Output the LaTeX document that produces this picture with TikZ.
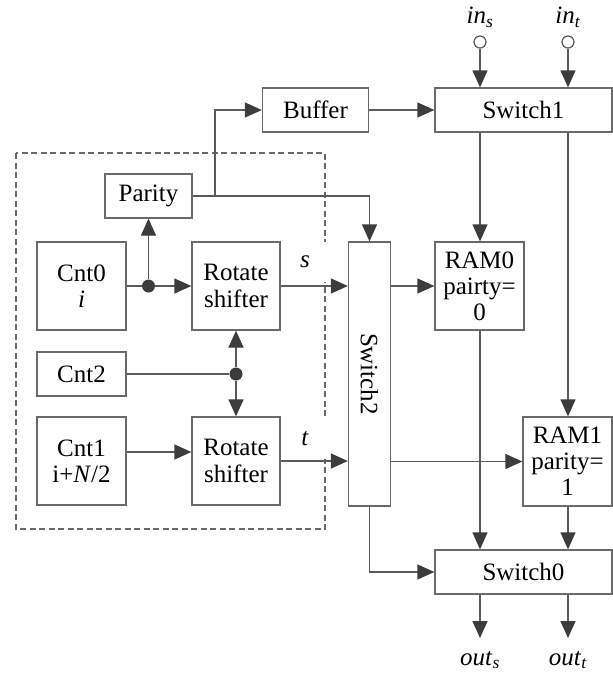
\documentclass[tikz,border=0pt]{standalone}
\usepackage{fontspec}
\setmainfont{Liberation Serif}
\usetikzlibrary{arrows.meta}
\definecolor{linec}{HTML}{5A5A5A}
\definecolor{boxc}{HTML}{6A6A6A}
\definecolor{tipc}{HTML}{3C3C3C}
\newcommand{\itsub}[2]{\textit{#1}\textsubscript{\textit{#2}}}
\begin{document}
\begin{tikzpicture}[x=1pt,y=-1pt,
  font=\fontsize{25}{29}\selectfont,
  blk/.style={draw=boxc,line width=1.3pt,fill=white,inner sep=0pt,align=center},
  conn/.style={draw=linec,line width=1.3pt},
  arr/.style={conn,-{Triangle[length=17pt,width=15pt,color=tipc]}},
  jdot/.style={circle,fill=tipc,inner sep=0pt,minimum size=13pt},
  odot/.style={circle,draw=linec,line width=1.2pt,fill=white,inner sep=0pt,minimum size=12pt},
  lbl/.style={fill=white,inner sep=0pt,minimum width=46pt,minimum height=40pt}]
\useasboundingbox (0,0) rectangle (613,673);
% dashed frame
\draw[draw=boxc,line width=1.3pt,dash pattern=on 6pt off 3.5pt] (16,153) rectangle (325,529);
% labels s and t (white fill interrupts frame)
\node[lbl] (slab) at (305,262) {\textit{s}};
\node[lbl] (tlab) at (305,439) {\textit{t}};
% blocks
\node[blk,minimum width=87pt,minimum height=44pt] (parity) at (148.5,196) {Parity};
\node[blk,minimum width=89pt,minimum height=88pt] (cnt0) at (81.5,286) {Cnt0\\[-3pt]\textit{i}};
\node[blk,minimum width=88pt,minimum height=88pt] (rs1) at (236,286) {Rotate\\[-2pt]shifter};
\node[blk,minimum width=89pt,minimum height=44pt] (cnt2) at (81.5,374) {Cnt2};
\node[blk,minimum width=89pt,minimum height=88pt] (cnt1) at (81.5,461) {Cnt1\\[-3pt]i+\textit{N}/2};
\node[blk,minimum width=88pt,minimum height=88pt] (rs2) at (236,461) {Rotate\\[-2pt]shifter};
\node[blk,minimum width=42pt,minimum height=264pt] (sw2) at (369.5,374) {\rotatebox{-90}{Switch2}};
\node[blk,minimum width=106pt,minimum height=44pt] (buffer) at (315.5,110) {Buffer};
\node[blk,minimum width=177pt,minimum height=44pt] (sw1) at (523.5,110) {Switch1};
\node[blk,minimum width=89pt,minimum height=88pt] (ram0) at (479.5,286) {RAM0\\[-3pt]pairty=\\[-3pt]0};
\node[blk,minimum width=89pt,minimum height=89pt] (ram1) at (567.5,461.5) {RAM1\\[-3pt]parity=\\[-3pt]1};
\node[blk,minimum width=177pt,minimum height=44pt] (sw0) at (523.5,572) {Switch0};
% inputs / outputs
\node[odot] (ins) at (480,42) {};
\node[odot] (int) at (568,42) {};
\node (inslab) at (480,17) {\itsub{in}{s}};
\node (intlab) at (568,17) {\itsub{in}{t}};
\coordinate (outsend) at (480,638);
\coordinate (outtend) at (568,638);
\node (outslab) at (480,660) {\itsub{out}{s}};
\node (outtlab) at (568,660) {\itsub{out}{t}};
% junctions
\node[jdot] (j1) at (148.5,286) {};
\node[jdot] (j2) at (236,374) {};
\coordinate (pb) at (215,196);
\coordinate (pt) at (215,110);
\coordinate (pr) at (369.5,196);
% connectors
\draw[conn] (cnt0.east) -- (j1);
\draw[arr] (j1) -- (rs1.west);
\draw[arr] (j1) -- (parity.south);
\draw[conn] (cnt2.east) -- (j2);
\draw[arr] (j2) -- (rs1.south);
\draw[arr] (j2) -- (rs2.north);
\draw[arr] (cnt1.east |- 0,452) -- (rs2.west |- 0,452);
\draw[arr] (rs1.east) -- (sw2.west |- rs1.east);
\draw[arr] (rs2.east) -- (sw2.west |- rs2.east);
\draw[arr] (parity.east) -- (pr) -- (sw2.north);
\draw[arr] (pb) -- (pt) -- (buffer.west);
\draw[arr] (buffer.east) -- (sw1.west);
\draw[arr] (ins) -- (ins |- sw1.north);
\draw[arr] (int) -- (int |- sw1.north);
\draw[arr] (ins |- sw1.south) -- (ins |- ram0.north);
\draw[arr] (int |- sw1.south) -- (int |- ram1.north);
\draw[arr] (sw2.east |- ram0.west) -- (ram0.west);
\draw[arr] (sw2.east |- ram1.west) -- (ram1.west);
\draw[arr] (ins |- ram0.south) -- (ins |- sw0.north);
\draw[arr] (int |- ram1.south) -- (int |- sw0.north);
\draw[arr] (sw2.south) -- (sw2.south |- sw0.west) -- (sw0.west);
\draw[arr] (ins |- sw0.south) -- (outsend);
\draw[arr] (int |- sw0.south) -- (outtend);
\end{tikzpicture}
\end{document}
